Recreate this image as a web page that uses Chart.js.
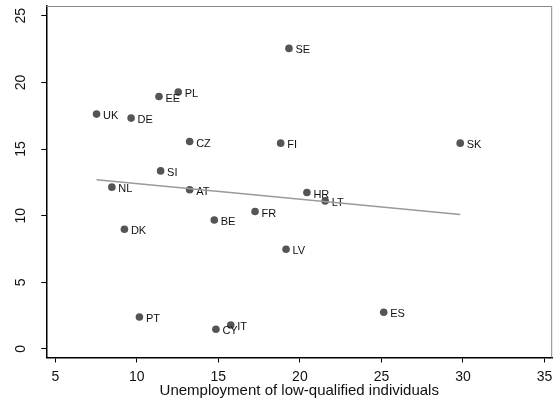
<!DOCTYPE html>
<html>
<head>
<meta charset="utf-8">
<script src="https://cdn.jsdelivr.net/npm/chart.js@4"></script>
<style>
  html, body { margin: 0; padding: 0; background: #fff; }
  #wrap { width: 556px; height: 403px; }
</style>
</head>
<body>
<div id="wrap"><canvas id="c" width="556" height="403"></canvas></div>
<script>
// Country codes and their values
const countries = ["SE","EE","PL","UK","DE","CZ","FI","SK","SI","NL","AT","HR","LT","FR","BE","DK","LV","ES","PT","IT","CY"];
const lowQualUnemp = [19.33,11.36,12.54,7.53,9.65,13.24,18.82,29.83,11.46,8.47,13.24,20.43,21.55,17.25,14.75,9.24,19.15,25.14,10.16,15.76,14.85];
const yValues = [22.55,18.94,19.27,17.62,17.32,15.56,15.44,15.44,13.36,12.14,11.94,11.74,11.11,10.31,9.68,8.98,7.48,2.75,2.40,1.80,1.48];

// Linear fit line end points
const fitX = [7.53, 29.83];
const fitY = [12.69, 10.08];

// Axis ticks
const xTicks = [5, 10, 15, 20, 25, 30, 35];
const yTicks = [0, 5, 10, 15, 20, 25];
const xTitle = "Unemployment of low-qualified individuals";

const FONT = "'Liberation Sans', Arial, Helvetica, sans-serif";

const pointLabels = {
  id: 'pointLabels',
  afterDatasetDraw(chart, args) {
    if (args.index !== 0) return;
    const ctx = chart.ctx;
    ctx.save();
    ctx.font = "11px " + FONT;
    ctx.fillStyle = "#111";
    ctx.textAlign = "left";
    ctx.textBaseline = "middle";
    args.meta.data.forEach((el, i) => {
      ctx.fillText(countries[i], el.x + 6.5, el.y + 2);
    });
    ctx.restore();
  }
};

const frame = {
  id: 'frame',
  beforeDatasetsDraw(chart) {
    const {ctx, chartArea: a} = chart;
    ctx.save();
    ctx.strokeStyle = "#8a8a8a";
    ctx.lineWidth = 1;
    ctx.beginPath();
    ctx.moveTo(a.left, a.top + 0.5);
    ctx.lineTo(a.right - 0.5, a.top + 0.5);
    ctx.lineTo(a.right - 0.5, a.bottom);
    ctx.stroke();
    ctx.restore();
  }
};

new Chart(document.getElementById('c'), {
  data: {
    datasets: [
      {
        type: 'scatter',
        order: 1,
        data: lowQualUnemp.map((x, i) => ({x: x, y: yValues[i]})),
        backgroundColor: '#555555',
        borderColor: '#555555',
        pointRadius: 3.8,
        pointBorderWidth: 0,
        pointHoverRadius: 3.8
      },
      {
        type: 'line',
        order: 0,
        data: fitX.map((x, i) => ({x: x, y: fitY[i]})),
        borderColor: '#9a9a9a',
        borderWidth: 1.5,
        pointRadius: 0,
        fill: false
      }
    ]
  },
  options: {
    responsive: false,
    animation: false,
    devicePixelRatio: 1,
    layout: { padding: { top: 6, right: 2, left: 0, bottom: 0 } },
    plugins: { legend: { display: false }, tooltip: { enabled: false } },
    scales: {
      x: {
        type: 'linear',
        min: 4.45,
        max: 35.47,
        afterBuildTicks: s => { s.ticks = xTicks.map(v => ({value: v})); },
        afterFit: s => { s.height = 45.5; s.paddingLeft = 0; s.paddingRight = 0; },
        grid: { drawOnChartArea: false, drawTicks: true, tickLength: 5, color: '#000', tickWidth: 1 },
        border: { display: true, color: '#000', width: 1.5 },
        ticks: { color: '#111', font: { family: FONT, size: 14 }, padding: 6, maxRotation: 0, autoSkip: false },
        title: { display: true, text: xTitle, color: '#111', font: { family: FONT, size: 15, lineHeight: 1 }, padding: { top: 0, bottom: 5 } }
      },
      y: {
        type: 'linear',
        min: -0.64,
        max: 25.73,
        afterBuildTicks: s => { s.ticks = yTicks.map(v => ({value: v})); },
        afterFit: s => { s.width = 46.3; s.paddingTop = 0; s.paddingBottom = 0; },
        grid: { drawOnChartArea: false, drawTicks: true, tickLength: 5, color: '#000', tickWidth: 1 },
        border: { display: true, color: '#000', width: 1.5 },
        ticks: { color: '#111', font: { family: FONT, size: 14 }, padding: 12, minRotation: 90, maxRotation: 90, crossAlign: 'center', autoSkip: false }
      }
    }
  },
  plugins: [frame, pointLabels]
});
</script>
</body>
</html>
